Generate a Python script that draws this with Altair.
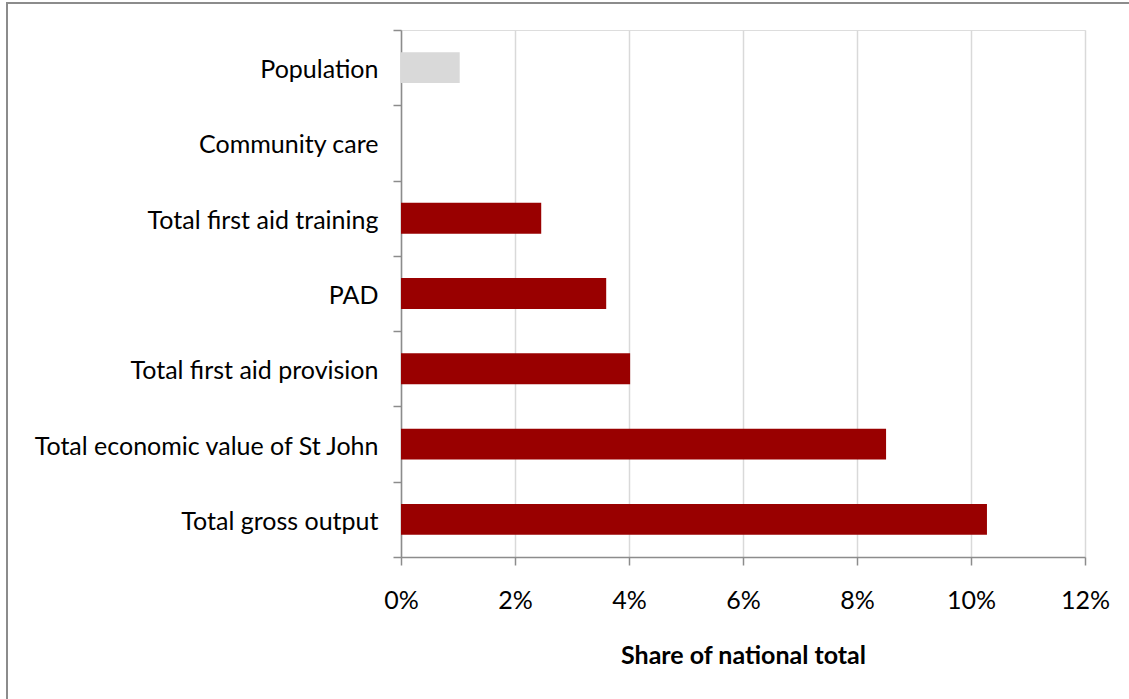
import altair as alt
import pandas as pd

categories = [
    "Population",
    "Community care",
    "Total first aid training",
    "PAD",
    "Total first aid provision",
    "Total economic value of St John",
    "Total gross output",
]
shares = [0.0103, 0.0, 0.0246, 0.0360, 0.0402, 0.0851, 0.1028]
groups = ["base", "st", "st", "st", "st", "st", "st"]
x_ticks = [0, 0.02, 0.04, 0.06, 0.08, 0.10, 0.12]

df = pd.DataFrame({"category": categories, "share": shares, "group": groups})

FONT = "Lato"
AXIS_GRAY = "#8c8c8c"

bars = alt.Chart(df).mark_bar(height=alt.RelativeBandSize(0.41)).encode(
    y=alt.Y(
        "category:N",
        sort=categories,
        scale=alt.Scale(paddingInner=0, paddingOuter=0),
        axis=alt.Axis(
            title=None,
            tickBand="extent",
            grid=False,
            domainColor=AXIS_GRAY,
            domainWidth=1.5,
            tickColor=AXIS_GRAY,
            tickWidth=1.5,
            tickSize=8,
            labelFontSize=25,
            labelFont=FONT,
            labelColor="#000000",
            labelPadding=15,
            labelLimit=500,
            labelBaseline="middle",
            labelOffset=2,
        ),
    ),
    x=alt.X(
        "share:Q",
        scale=alt.Scale(domain=[0, 0.12], nice=False),
        axis=alt.Axis(
            title="Share of national total",
            values=x_ticks,
            format=".0%",
            grid=True,
            gridColor="#d9d9d9",
            gridWidth=1.5,
            domainColor=AXIS_GRAY,
            domainWidth=1.5,
            tickColor=AXIS_GRAY,
            tickWidth=1.5,
            tickSize=8,
            labelFontSize=25,
            labelFont=FONT,
            labelColor="#000000",
            labelPadding=23,
            labelFlush=False,
            labelOverlap=False,
            titleFont=FONT,
            titleFontSize=25,
            titleFontWeight="bold",
            titleColor="#000000",
            titlePadding=30,
        ),
    ),
    color=alt.Color(
        "group:N",
        scale=alt.Scale(domain=["base", "st"], range=["#d9d9d9", "#990000"]),
        legend=None,
    ),
)

frame = alt.Chart(df).mark_rect(
    fill=None, stroke=AXIS_GRAY, strokeWidth=2
).encode(
    x=alt.value(-394), x2=alt.value(800), y=alt.value(-27), y2=alt.value(800)
)

chart = alt.layer(bars, frame).properties(
    width=684,
    height=527,
    autosize=alt.AutoSizeParams(type="none"),
    padding={"left": 401, "top": 30, "right": 44, "bottom": 142},
).configure_view(stroke=None).configure(background="white")

chart.save("out.html", embed_options={"renderer": "svg", "actions": False})
